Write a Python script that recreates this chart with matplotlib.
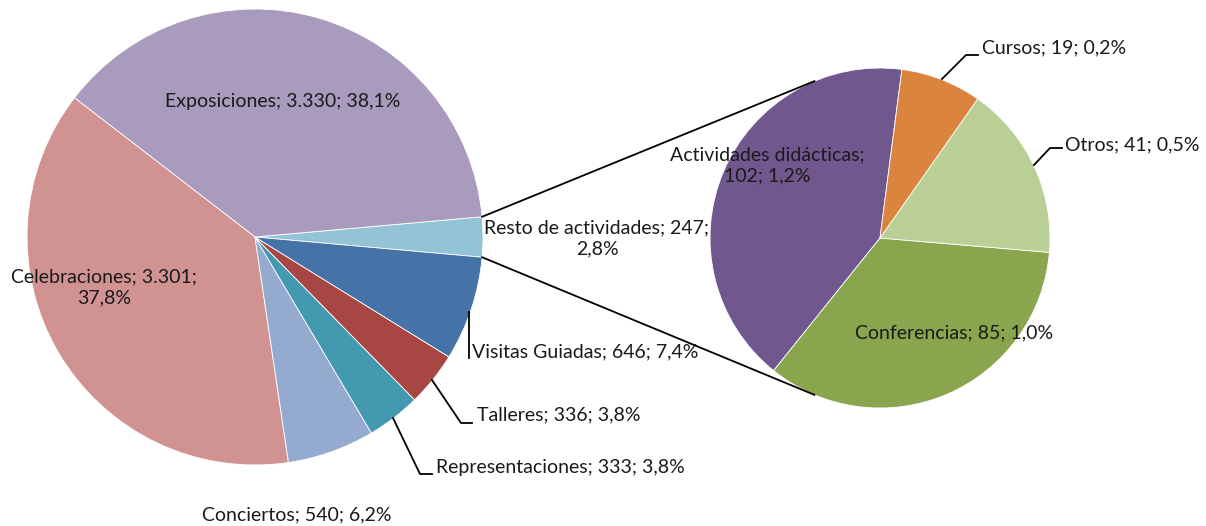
import numpy as np
import matplotlib.pyplot as plt

plt.rcParams['font.family'] = ['Lato', 'DejaVu Sans']
plt.rcParams['font.size'] = 14

# main pie (counter-clockwise starting with the "Resto" slice)
main_labels = ["Resto de actividades", "Exposiciones", "Celebraciones", "Conciertos",
               "Representaciones", "Talleres", "Visitas Guiadas"]
main_values = [247, 3330, 3301, 540, 333, 336, 646]
main_colors = ["#93C4D5", "#A99BBD", "#D19392", "#95AACF", "#4299B0", "#A84643", "#4572A7"]

# secondary pie (breakdown of "Resto de actividades")
sub_labels = ["Actividades didácticas", "Conferencias", "Otros", "Cursos"]
sub_values = [102, 85, 41, 19]
sub_colors = ["#70588F", "#89A54E", "#B9CF96", "#DB843D"]

total = sum(main_values)
W, H = 1206, 526


def pct(v):
    return f"{v / total * 100:.1f}".replace(".", ",") + "%"


def num(v):
    return f"{v:,}".replace(",", ".")


def lab(name, v):
    return f"{name}; {num(v)}; {pct(v)}"


fig = plt.figure(figsize=(W / 100, H / 100), dpi=100)
ax = fig.add_axes([0, 0, 1, 1])

c1, r1 = (255, H - 237), 228
c2, r2 = (880, H - 238), 170
half = main_values[0] / total * 180

ax.pie(main_values, colors=main_colors, startangle=-half, counterclock=True,
       center=c1, radius=r1, wedgeprops=dict(edgecolor="white", linewidth=0.6))
ax.pie(sub_values, colors=sub_colors, startangle=82.6, counterclock=True,
       center=c2, radius=r2, wedgeprops=dict(edgecolor="white", linewidth=0.6))

# connector lines between the pies
for s in (1, -1):
    a1 = np.radians(s * half)
    a2 = np.radians(s * 112.7)
    ax.plot([c1[0] + r1 * np.cos(a1), c2[0] + r2 * np.cos(a2)],
            [c1[1] + r1 * np.sin(a1), c2[1] + r2 * np.sin(a2)],
            color="black", lw=1.3, zorder=5)

tc = "#1a1a1a"


def txt(x, y, s, ha="center"):
    ax.text(x, H - y, s, ha=ha, va="center", color=tc, linespacing=1.3, zorder=6)


def leader(pts):
    xs, ys = zip(*pts)
    ax.plot(xs, [H - y for y in ys], color="black", lw=1.3, zorder=5)


txt(283, 101, lab("Exposiciones", 3330))
txt(104, 287, f"Celebraciones; {num(3301)};\n{pct(3301)}")
txt(597, 238, f"Resto de actividades; {num(247)};\n{pct(247)}")
txt(297, 515, lab("Conciertos", 540))

leader([(469, 312), (469, 358)])
txt(472, 352, lab("Visitas Guiadas", 646), ha="left")
leader([(432, 380), (461, 423), (472, 423)])
txt(477, 415, lab("Talleres", 336), ha="left")
leader([(393, 418), (420, 474), (432, 474)])
txt(436, 467, lab("Representaciones", 333), ha="left")

txt(767, 165, f"Actividades didácticas;\n{num(102)}; {pct(102)}")
txt(954, 333, lab("Conferencias", 85))
leader([(942, 79), (966, 55), (978, 55)])
txt(982, 48, lab("Cursos", 19), ha="left")
leader([(1034, 165), (1050, 148), (1062, 148)])
txt(1065, 145, lab("Otros", 41), ha="left")

ax.set_xlim(0, W)
ax.set_ylim(0, H)
ax.set_aspect("equal")
ax.set_axis_off()

fig.savefig("out.png", dpi=100)
